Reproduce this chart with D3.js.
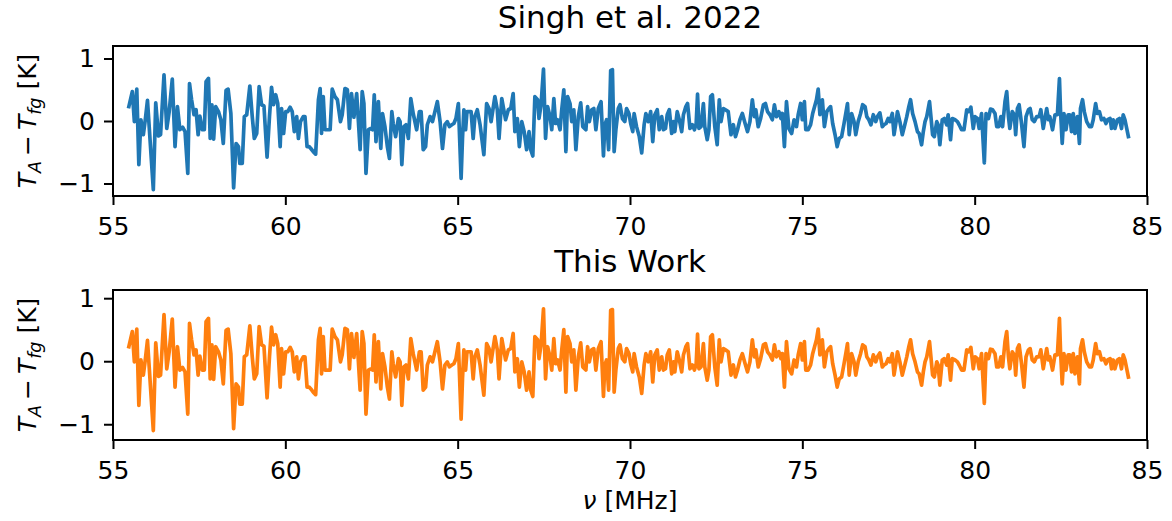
<!DOCTYPE html>
<html>
<head>
<meta charset="utf-8">
<script src="https://cdn.jsdelivr.net/npm/d3@7"></script>
<style>
  html, body { margin: 0; padding: 0; background: #fff; }
  svg { display: block; font-family: "DejaVu Sans", sans-serif; }
</style>
</head>
<body>
<svg id="chart" width="1172" height="521"></svg>
<script>
// Channel frequencies of the residual spectrum (MHz)
const freqMHz = [
  // 55.5 - 58.6
  55.46,55.56,55.62,55.69,55.75,55.81,55.88,55.93,56.00,56.17,
  56.24,56.32,56.38,56.48,56.56,56.63,56.72,56.80,56.87,56.94,
  57.02,57.09,57.17,57.22,57.28,57.35,57.41,57.47,57.52,57.59,
  57.65,57.70,57.77,57.82,57.87,57.92,57.98,58.06,58.13,58.20,
  58.28,58.34,58.42,58.50,58.57,
  // 58.6 - 62.0
  58.64,58.68,58.75,58.81,58.88,58.97,59.04,59.10,59.17,59.24,
  59.31,59.38,59.47,59.54,59.60,59.66,59.72,59.78,59.85,59.89,
  59.95,60.01,60.07,60.14,60.20,60.26,60.33,60.38,60.44,60.52,
  60.57,60.63,60.69,60.74,60.81,60.88,60.96,61.01,61.05,61.10,
  61.15,61.22,61.30,61.36,61.44,61.51,61.60,61.65,61.73,61.80,
  61.86,61.92,61.99,
  // 62.0 - 65.2
  62.07,62.17,62.23,62.28,62.34,62.41,62.48,62.53,62.58,62.63,
  62.70,62.77,62.82,62.89,62.96,63.02,63.09,63.13,63.20,63.28,
  63.33,63.38,63.44,63.50,63.57,63.64,63.71,63.81,63.89,63.94,
  64.00,64.07,64.12,64.20,64.27,64.34,64.41,64.49,64.56,64.63,
  64.70,64.76,64.83,64.89,64.95,65.02,65.10,65.14,65.18,65.23,
  // 65.2 - 68.6
  65.27,65.39,65.45,65.50,65.57,65.65,65.76,65.84,65.91,65.97,
  66.08,66.15,66.20,66.28,66.39,66.47,66.54,66.61,66.66,66.73,
  66.79,66.86,66.93,67.00,67.07,67.12,67.18,67.24,67.32,67.36,
  67.42,67.49,67.55,67.61,67.68,67.73,67.79,67.84,67.90,67.97,
  68.02,68.08,68.14,68.19,68.26,68.31,68.37,68.43,68.50,68.57,
  68.63,
  // 68.7 - 72.0
  68.72,68.77,68.82,68.89,68.95,69.01,69.08,69.16,69.23,69.27,
  69.32,69.38,69.44,69.49,69.54,69.59,69.66,69.71,69.78,69.85,
  69.90,69.97,70.02,70.08,70.12,70.19,70.27,70.34,70.41,70.46,
  70.53,70.60,70.66,70.72,70.79,70.85,70.92,70.97,71.03,71.08,
  71.14,71.21,71.26,71.30,71.37,71.43,71.50,71.55,71.62,71.67,
  71.74,71.81,71.87,71.92,71.96,
  // 72.0 - 75.3
  72.00,72.06,72.13,72.17,72.24,72.29,72.34,72.39,72.46,72.53,
  72.59,72.64,72.71,72.77,72.85,72.93,73.00,73.06,73.12,73.19,
  73.26,73.34,73.41,73.48,73.55,73.61,73.65,73.72,73.79,73.87,
  73.93,73.99,74.06,74.13,74.19,74.25,74.32,74.38,74.42,74.48,
  74.54,74.61,74.69,74.76,74.83,74.88,74.95,75.00,75.06,75.10,
  75.17,75.24,75.30,
  // 75.4 - 78.7
  75.41,75.46,75.51,75.58,75.64,75.71,75.77,75.82,75.88,75.95,
  76.01,76.07,76.14,76.21,76.27,76.31,76.36,76.43,76.50,76.55,
  76.62,76.69,76.75,76.82,76.87,76.93,76.99,77.06,77.13,77.18,
  77.25,77.32,77.37,77.43,77.49,77.54,77.61,77.66,77.72,77.76,
  77.83,77.90,77.96,78.03,78.09,78.14,78.20,78.27,78.34,78.39,
  78.46,78.51,78.56,78.61,78.69,
  // 78.8 - 82.0
  78.78,78.83,78.90,78.94,78.99,79.06,79.12,79.19,79.23,79.30,
  79.35,79.43,79.50,79.55,79.62,79.69,79.77,79.83,79.89,79.96,
  80.01,80.08,80.13,80.20,80.28,80.33,80.40,80.46,80.52,80.59,
  80.64,80.70,80.76,80.81,80.88,80.93,80.98,81.02,81.09,81.15,
  81.19,81.24,81.29,81.36,81.43,81.49,81.56,81.61,81.67,81.73,
  81.80,81.87,81.92,81.99,
  // 82.0 - 84.5
  82.09,82.14,82.18,82.26,82.33,82.40,82.46,82.49,82.54,82.59,
  82.65,82.71,82.76,82.81,82.86,82.91,82.98,83.04,83.07,83.13,
  83.18,83.25,83.33,83.39,83.44,83.51,83.56,83.62,83.68,83.75,
  83.81,83.86,83.93,83.97,84.02,84.07,84.14,84.20,84.26,84.31,
  84.36,84.46
];

// Residual T_A - T_fg (K) after the Singh et al. 2022 foreground fit
const singhTemp = [
  0.23,0.47,-0.01,0.51,-0.70,0.02,-0.22,-0.01,0.33,-1.10,
  0.29,-0.24,-0.22,0.74,-0.12,0.15,0.67,-0.41,0.23,-0.14,
  -0.10,-0.17,-0.84,0.60,0.34,0.10,0.18,-0.22,0.08,-0.14,
  -0.14,0.63,0.68,-0.28,0.26,-0.29,0.23,0.15,0.02,-0.36,
  0.49,0.51,0.12,-1.07,-0.36,
  -0.41,-0.68,-0.68,0.07,0.10,0.56,0.07,-0.28,-0.20,0.55,
  0.26,0.24,-0.58,0.07,0.54,0.26,0.42,0.28,-0.41,0.20,
  -0.20,0.15,0.15,0.22,0.15,-0.17,0.07,-0.28,-0.01,0.07,
  0.07,-0.41,-0.41,-0.44,-0.49,-0.53,0.34,0.52,-0.20,0.39,
  -0.14,-0.14,-0.14,0.51,0.39,0.34,-0.01,0.10,0.52,0.50,
  -0.12,0.44,0.06,
  0.44,-0.46,0.47,0.28,-0.84,-0.14,-0.12,-0.14,0.42,-0.33,
  0.31,-0.44,0.12,-0.09,-0.41,-0.60,0.15,-0.04,-0.25,0.04,
  -0.01,-0.70,-0.09,-0.06,-0.28,0.36,0.12,-0.14,0.15,0.15,
  -0.46,-0.41,-0.06,0.07,-0.01,0.15,0.31,-0.01,-0.44,-0.06,
  -0.01,-0.09,-0.06,-0.04,0.04,0.28,-0.92,-0.28,0.18,-0.14,
  0.15,0.15,-0.28,0.07,0.18,-0.06,-0.54,0.28,0.20,-0.01,
  0.39,0.18,-0.28,0.36,0.02,0.18,0.20,0.44,-0.17,0.04,
  -0.41,-0.01,-0.17,-0.46,-0.17,-0.46,-0.56,0.39,0.34,0.04,
  0.26,0.83,-0.28,0.23,0.07,-0.14,0.36,-0.04,0.02,-0.14,
  0.18,0.50,-0.49,0.39,0.28,-0.01,0.18,-0.46,0.07,0.29,
  -0.09,
  -0.14,0.23,-0.01,0.18,0.20,-0.14,0.20,0.31,-0.56,-0.06,
  0.02,-0.46,0.81,0.82,-0.49,-0.14,0.20,0.26,0.04,-0.01,
  0.20,0.12,-0.04,-0.17,0.12,-0.09,-0.25,-0.51,-0.06,0.12,
  -0.01,0.15,-0.33,0.10,0.18,-0.14,0.07,-0.14,-0.12,0.10,
  0.18,-0.20,-0.01,-0.17,0.15,0.02,-0.17,0.10,0.23,0.28,
  -0.12,-0.06,-0.14,-0.04,0.43,
  -0.12,-0.09,0.28,-0.09,-0.30,-0.14,0.39,0.42,-0.09,-0.38,
  0.34,-0.01,0.20,0.18,0.15,-0.22,-0.06,-0.25,-0.14,0.02,
  0.12,-0.04,-0.17,-0.01,0.34,0.07,0.18,-0.09,0.04,0.26,
  0.28,0.15,0.10,0.02,0.26,0.07,0.15,0.04,0.12,-0.41,
  0.31,-0.12,-0.20,0.02,-0.09,0.10,0.28,0.02,0.31,-0.14,
  -0.14,-0.06,0.12,
  0.34,0.51,0.10,0.34,-0.09,0.15,0.20,0.23,-0.04,-0.22,
  -0.41,-0.28,-0.25,-0.04,0.15,0.28,-0.22,0.12,-0.01,-0.22,
  -0.01,0.12,0.26,0.23,0.07,0.02,-0.06,0.10,-0.01,0.07,
  0.13,-0.09,-0.06,-0.04,0.04,-0.01,0.12,-0.22,-0.01,0.15,
  -0.01,-0.22,-0.09,0.07,0.23,0.34,0.12,-0.01,-0.17,-0.20,
  -0.38,-0.17,-0.01,0.07,0.31,
  -0.22,-0.25,-0.01,-0.06,-0.38,0.02,0.04,-0.06,0.10,-0.30,
  0.04,0.02,-0.01,-0.06,-0.14,-0.14,0.18,0.15,0.22,-0.12,
  0.07,0.04,-0.12,0.12,-0.67,0.12,0.04,0.19,0.18,0.12,
  -0.09,-0.09,0.07,-0.09,0.31,0.47,0.07,-0.12,0.15,0.10,
  -0.22,0.20,0.26,-0.04,-0.41,0.07,0.18,0.20,0.02,-0.01,
  0.07,0.07,0.18,-0.12,
  0.20,0.02,0.07,-0.14,0.10,0.10,0.68,0.18,-0.36,0.12,
  -0.14,0.10,0.10,-0.17,0.12,-0.20,0.07,-0.36,0.20,0.34,
  0.15,-0.01,-0.09,-0.09,0.02,0.28,0.12,0.15,0.02,0.04,
  -0.04,0.02,0.04,-0.12,0.02,-0.12,0.02,0.04,-0.12,0.10,
  0.02,-0.25
];

// Residual after this work's fit: identical to the line width of the plot
const thisWorkTemp = singhTemp.slice();

const xTicks = [55, 60, 65, 70, 75, 80, 85];
const yTicks = [-1, 0, 1];
const panelTitles = ["Singh et al. 2022", "This Work"];

// ---- layout ----
const svg = d3.select("#chart");
const W = 1172, H = 521;
svg.append("rect").attr("width", W).attr("height", H).attr("fill", "#fff");

const plotLeft = 113, plotRight = 1147;
const panels = [
  { title: panelTitles[0], values: singhTemp, color: "#1f77b4", top: 46, bottom: 196, yDomain: [-1.2, 1.2] },
  { title: panelTitles[1], values: thisWorkTemp, color: "#ff7f0e", top: 290, bottom: 440, yDomain: [-1.25, 1.13] }
];

const x = d3.scaleLinear().domain([55, 85]).range([plotLeft, plotRight]);
const tickFont = 25;

panels.forEach(p => {
  const y = d3.scaleLinear().domain(p.yDomain).range([p.bottom, p.top]);
  const g = svg.append("g");

  // residual curve
  const pts = freqMHz.map((f, i) => [f, p.values[i]]);
  g.append("path")
    .datum(pts)
    .attr("fill", "none")
    .attr("stroke", p.color)
    .attr("stroke-width", 3.7)
    .attr("stroke-linejoin", "round")
    .attr("stroke-linecap", "square")
    .attr("d", d3.line().x(d => x(d[0])).y(d => y(d[1])));

  // frame
  g.append("rect")
    .attr("x", plotLeft).attr("y", p.top)
    .attr("width", plotRight - plotLeft).attr("height", p.bottom - p.top)
    .attr("fill", "none").attr("stroke", "#000").attr("stroke-width", 2);

  // x axis
  const xa = g.append("g")
    .attr("transform", `translate(0,${p.bottom})`)
    .call(d3.axisBottom(x).tickValues(xTicks).tickFormat(d3.format("d"))
      .tickSize(9).tickSizeOuter(0).tickPadding(12));
  xa.select(".domain").remove();
  xa.selectAll("line").attr("stroke", "#000").attr("stroke-width", 2);
  xa.selectAll("text").attr("font-size", tickFont).attr("font-family", "DejaVu Sans").attr("fill", "#000");

  // y axis
  const ya = g.append("g")
    .attr("transform", `translate(${plotLeft},0)`)
    .call(d3.axisLeft(y).tickValues(yTicks).tickFormat(d3.format("d"))
      .tickSize(9).tickSizeOuter(0).tickPadding(9));
  ya.select(".domain").remove();
  ya.selectAll("line").attr("stroke", "#000").attr("stroke-width", 2);
  ya.selectAll("text").attr("font-size", tickFont).attr("font-family", "DejaVu Sans").attr("fill", "#000");

  // panel title
  g.append("text")
    .attr("x", (plotLeft + plotRight) / 2)
    .attr("y", p.top - 17.7)
    .attr("text-anchor", "middle")
    .attr("font-size", 31)
    .attr("fill", "#000")
    .text(p.title);

  // y label: T_A − T_fg [K]
  const cy = (p.top + p.bottom) / 2;
  const yl = g.append("text")
    .attr("transform", `translate(36,${cy}) rotate(-90)`)
    .attr("text-anchor", "middle")
    .attr("font-size", tickFont)
    .attr("fill", "#000");
  yl.append("tspan").attr("font-style", "italic").text("T");
  yl.append("tspan").attr("font-style", "italic").attr("font-size", 17.5).attr("dy", 5).text("A");
  yl.append("tspan").attr("dy", -5).text("\u2009\u2212\u2009");
  yl.append("tspan").attr("font-style", "italic").text("T");
  yl.append("tspan").attr("font-style", "italic").attr("font-size", 17.5).attr("dy", 5).text("fg");
  yl.append("tspan").attr("dy", -5).text(" [K]");
});

// x label: ν [MHz]
const xl = svg.append("text")
  .attr("x", (plotLeft + plotRight) / 2)
  .attr("y", 509)
  .attr("text-anchor", "middle")
  .attr("font-size", tickFont)
  .attr("fill", "#000");
xl.append("tspan").attr("font-style", "italic").text("\u03bd");
xl.append("tspan").text(" [MHz]");
</script>
</body>
</html>
